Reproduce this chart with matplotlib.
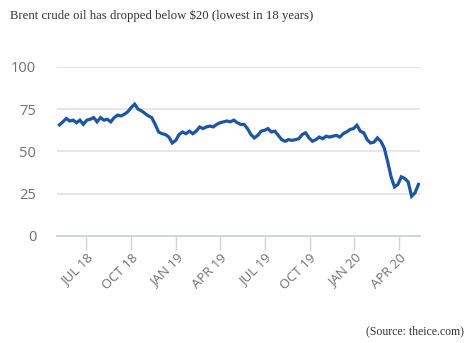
import pandas as pd
import matplotlib
matplotlib.use("Agg")
import matplotlib.pyplot as plt

# weekly Brent price (USD / barrel)
start_date = "2018-05-07"
prices = [
    65.7, 67.5, 69.5, 68.0, 68.5, 67.0, 68.5, 66.0, 68.5, 69.0,
    70.0, 67.5, 70.0, 68.5, 69.0, 67.5, 70.0, 71.5, 71.0, 72.0,
    73.5, 76.0, 78.0, 75.0, 74.0, 72.5, 71.0, 70.0, 66.0, 61.5,
    60.5, 60.0, 58.5, 55.0, 56.5, 60.0, 61.5, 60.5, 62.0, 60.5,
    62.0, 64.5, 63.5, 64.5, 65.0, 64.5, 66.0, 67.0, 67.5, 68.0,
    67.5, 68.5, 67.0, 66.0, 66.0, 63.5, 60.0, 58.0, 59.5, 62.0,
    62.5, 63.5, 61.5, 62.0, 59.5, 57.0, 56.0, 57.0, 56.5, 57.0,
    57.5, 60.0, 61.0, 58.0, 56.0, 57.0, 58.5, 57.5, 59.0, 58.5,
    59.0, 59.5, 58.5, 60.5, 61.5, 63.0, 63.5, 65.5, 62.0, 61.0,
    57.0, 55.0, 55.5, 58.0, 56.0, 52.0, 44.0, 35.0, 29.0, 30.5,
    35.0, 34.0, 32.0, 23.5, 25.5, 30.5,
]
dates = pd.date_range(start_date, periods=len(prices), freq="7D")

tick_dates = pd.to_datetime(["2018-07-01", "2018-10-01", "2019-01-01", "2019-04-01",
                             "2019-07-01", "2019-10-01", "2020-01-01", "2020-04-01"])
tick_labels = ["JUL 18", "OCT 18", "JAN 19", "APR 19", "JUL 19", "OCT 19", "JAN 20", "APR 20"]
y_ticks = [0, 25, 50, 75, 100]

fig = plt.figure(figsize=(4.65, 3.43), dpi=100)
ax = fig.add_axes([0.1226, 0.312, 0.7804, 0.493])

ax.plot(dates, prices, color="#1d56a0", lw=2.3, solid_joinstyle="miter")

ax.set_ylim(0, 100)
ax.set_xlim(pd.Timestamp("2018-05-02"), pd.Timestamp("2020-05-14"))
ax.set_yticks(y_ticks)
ax.set_yticklabels([str(v) for v in y_ticks], fontsize=10.5, color="#707070",
                   family="Open Sans")
ax.set_xticks(tick_dates)
ax.set_xticklabels(tick_labels, rotation=45, ha="right", rotation_mode="anchor",
                   fontsize=9.5, color="#707070", family="Open Sans")

ax.grid(axis="y", color="#e6e6e6", lw=1.4)
ax.set_axisbelow(True)
for s in ["top", "right", "left"]:
    ax.spines[s].set_visible(False)
ax.spines["bottom"].set_color("#cdd6de")
ax.spines["bottom"].set_linewidth(1.4)
ax.tick_params(axis="y", length=0, pad=15)
ax.tick_params(axis="x", length=10, width=1, color="#cdd6de", pad=1)

fig.text(0.022, 0.955, "Brent crude oil has dropped below $20 (lowest in 18 years)",
         family="Liberation Serif", fontsize=9.2, color="#333333", va="center")
fig.text(0.998, 0.035, "(Source: theice.com)", family="Liberation Serif",
         fontsize=8.5, color="#333333", ha="right", va="center")

fig.savefig("out.png", dpi=100)
